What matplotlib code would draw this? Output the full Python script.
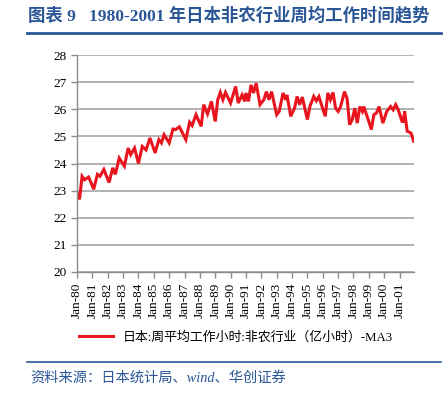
import numpy as np
import pandas as pd
import matplotlib
matplotlib.use('Agg')
import matplotlib.pyplot as plt
import matplotlib.dates as mdates

# monthly MA3 readings (month, hours)
months = ['1980-01', '1980-03', '1980-05', '1980-07', '1980-10', '1980-11',
          '1981-02', '1981-05', '1981-07', '1981-10', '1982-02', '1982-05',
          '1982-07', '1982-10', '1983-02', '1983-05', '1983-07', '1983-10',
          '1984-01', '1984-04', '1984-07', '1984-10', '1985-02', '1985-05',
          '1985-07', '1985-09', '1986-01', '1986-04', '1986-06', '1986-09',
          '1987-02', '1987-05', '1987-07', '1987-10', '1988-02', '1988-04',
          '1988-07', '1988-10', '1989-01', '1989-03', '1989-05', '1989-07',
          '1989-09', '1990-01', '1990-05', '1990-07', '1990-10', '1990-12',
          '1991-01', '1991-03', '1991-05', '1991-07', '1991-09', '1991-12',
          '1992-03', '1992-05', '1992-07', '1992-09', '1993-01', '1993-03',
          '1993-06', '1993-08', '1993-09', '1993-12', '1994-03', '1994-05',
          '1994-07', '1994-09', '1995-01', '1995-03', '1995-06', '1995-08',
          '1995-10', '1995-12', '1996-03', '1996-05', '1996-07', '1996-09',
          '1996-11', '1997-01', '1997-03', '1997-06', '1997-08', '1997-10',
          '1997-12', '1998-02', '1998-04', '1998-06', '1998-08', '1998-09',
          '1999-01', '1999-03', '1999-05', '1999-07', '1999-09', '1999-12',
          '2000-03', '2000-06', '2000-08', '2000-10', '2000-12', '2001-03',
          '2001-04', '2001-05', '2001-07', '2001-10', '2001-12']
hours = [22.92, 22.68, 23.53, 23.40, 23.50, 23.40,
         23.05, 23.60, 23.53, 23.78, 23.30, 23.84,
         23.60, 24.20, 23.90, 24.57, 24.33, 24.57,
         24.00, 24.63, 24.50, 24.94, 24.39, 24.88,
         24.76, 25.06, 24.76, 25.27, 25.25, 25.35,
         24.88, 25.52, 25.40, 25.80, 25.37, 26.17,
         25.83, 26.29, 25.55, 26.35, 26.62, 26.35,
         26.62, 26.23, 26.84, 26.23, 26.53, 26.29,
         26.60, 26.29, 26.90, 26.60, 26.96, 26.17,
         26.35, 26.65, 26.35, 26.65, 25.80, 25.92,
         26.60, 26.35, 26.53, 25.74, 26.04, 26.47,
         26.17, 26.45, 25.62, 26.10, 26.47, 26.31,
         26.47, 26.17, 25.74, 26.60, 26.35, 26.62,
         26.04, 25.92, 26.10, 26.65, 26.40, 25.43,
         25.62, 26.04, 25.49, 26.10, 25.92, 26.10,
         25.55, 25.25, 25.80, 25.86, 26.10, 25.49,
         25.92, 26.10, 25.98, 26.17, 25.98, 25.55,
         25.55, 25.92, 25.19, 25.12, 24.82]
yticks = [20, 21, 22, 23, 24, 25, 26, 27, 28]

dates = pd.to_datetime(months)
SERIF_CJK = ['Liberation Serif', 'Noto Sans CJK SC']
BLUE = '#2B5797'
GRID = '#A6A6A6'

fig = plt.figure(figsize=(4.48, 3.98), dpi=100)
ax = fig.add_axes([77 / 448, 1 - 272 / 398, (414 - 77) / 448, (272 - 55) / 398])

ax.plot(dates, hours, color='#E8141E', lw=2.2, solid_joinstyle='miter')
ax.set_ylim(20, 28)
ax.set_yticks(yticks)
ax.set_xlim(pd.Timestamp('1980-01-01'), pd.Timestamp('2001-12-10'))
ax.xaxis.set_major_locator(mdates.YearLocator(1, month=1, day=1))
ax.xaxis.set_major_formatter(mdates.DateFormatter('%b-%y'))
ax.grid(axis='y', color=GRID, lw=1.2)
ax.set_axisbelow(True)
for s in ['top', 'right']:
    ax.spines[s].set_visible(False)
for s in ['left', 'bottom']:
    ax.spines[s].set_color('#8C8C8C')
    ax.spines[s].set_linewidth(1.0)
ax.tick_params(axis='both', colors='#8C8C8C', length=4, width=1.0,
               labelcolor='black', labelsize=9.5)
for lab in ax.get_xticklabels():
    lab.set_rotation(90)
    lab.set_family('Liberation Serif')
for lab in ax.get_yticklabels():
    lab.set_family('Liberation Serif')

fig.legend(['日本:周平均工作小时:非农行业（亿小时）-MA3'], loc='center',
           bbox_to_anchor=(236 / 448, 1 - 337 / 398), frameon=False,
           handlelength=2.6, prop={'family': SERIF_CJK, 'size': 9.3})

fig.text(28 / 448, 1 - 16 / 398, '图表 9   1980-2001 年日本非农行业周均工作时间趋势',
         family=SERIF_CJK, weight='bold', size=12.5, color=BLUE,
         ha='left', va='center')
fig.add_artist(plt.Line2D([27 / 448, 441 / 448], [1 - 33 / 398] * 2,
                          color=BLUE, lw=2.0))
fig.add_artist(plt.Line2D([27 / 448, 441 / 448], [1 - 362 / 398] * 2,
                          color=BLUE, lw=1.2))
fig.text(30 / 448, 1 - 379 / 398, '资料来源：日本统计局、wind、华创证券',
         family=SERIF_CJK, style='italic', size=10.3, color=BLUE,
         ha='left', va='center')

fig.savefig('out.png', dpi=100)
